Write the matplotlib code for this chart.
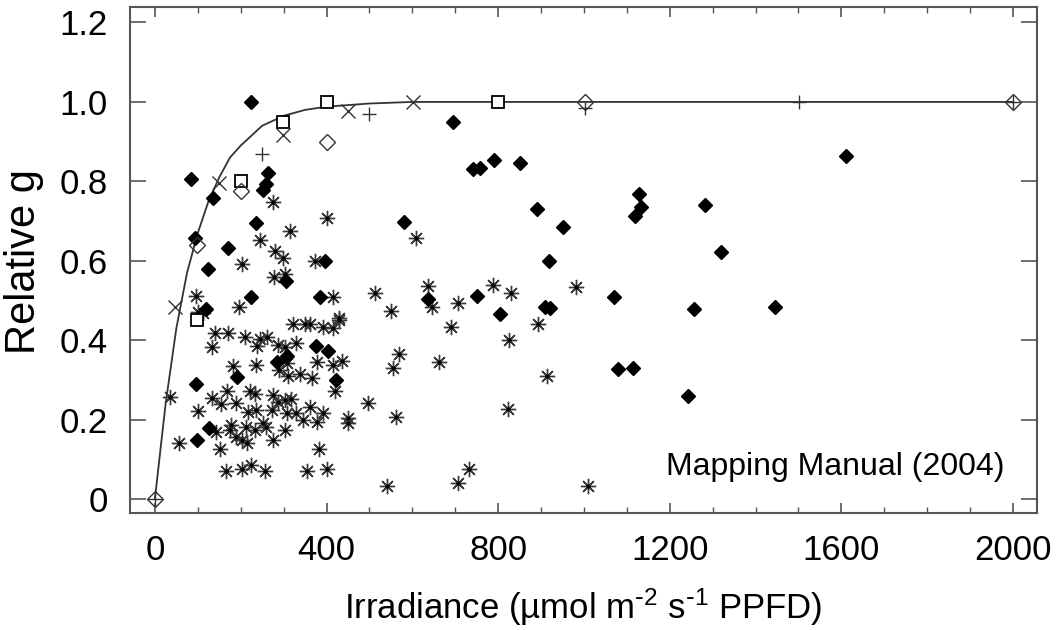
import matplotlib
matplotlib.use("Agg")
import matplotlib.pyplot as plt
from matplotlib.ticker import MultipleLocator, FuncFormatter

plt.rcParams['font.family'] = ['Liberation Sans', 'DejaVu Sans']
plt.rcParams['mathtext.default'] = 'regular'

# model curve
curve_x = [0, 25, 50, 75, 100, 125, 150, 175, 200, 250, 300, 350, 400, 500, 600, 800, 1000, 1500, 2000]
curve_y = [0, 0.24, 0.43, 0.57, 0.67, 0.75, 0.81, 0.86, 0.89, 0.94, 0.965, 0.98, 0.988, 0.996, 1.0, 1.0, 1.0, 1.0, 1.0]

# filled diamonds
dia_x = [224, 84, 135, 263, 259, 252, 235, 170, 93, 124, 120, 224, 580, 695, 741, 758, 790, 851,
         890, 951, 918, 1128, 1133, 1119, 1282, 1319, 1610, 1070, 909, 921, 1256, 1445, 804, 750,
         636, 1079, 1114, 1242, 396, 305, 385, 375, 404, 192, 285, 307, 421, 95, 97, 127]
dia_y = [1.00, 0.806, 0.758, 0.82, 0.793, 0.778, 0.695, 0.632, 0.657, 0.579, 0.478, 0.509, 0.698,
         0.95, 0.83, 0.834, 0.854, 0.846, 0.73, 0.685, 0.60, 0.768, 0.735, 0.713, 0.74, 0.622, 0.864,
         0.51, 0.484, 0.48, 0.478, 0.484, 0.466, 0.512, 0.505, 0.327, 0.33, 0.26, 0.600, 0.550, 0.509,
         0.385, 0.373, 0.308, 0.346, 0.360, 0.300, 0.289, 0.149, 0.180]

# asterisks
ast_x = [246, 315, 279, 299, 204, 373, 277, 303, 608, 275, 401, 95, 111, 101, 196, 414, 514, 551,
         637, 647, 706, 788, 831, 690, 826, 569, 554, 663, 822, 731, 706, 540, 497, 562, 450, 450,
         383, 400, 354, 256, 224, 203, 165, 152, 57, 101, 36, 132, 140, 171, 210, 239, 245, 262, 287,
         303, 329, 322, 349, 361, 392, 416, 430, 183, 235, 307, 290, 311, 339, 367, 377, 414, 437,
         420, 167, 222, 233, 134, 155, 190, 217, 235, 276, 287, 303, 318, 272, 307, 330, 346, 361,
         377, 391, 142, 174, 178, 190, 202, 215, 213, 233, 252, 260, 276, 303, 981, 893, 914, 1009, 429]
ast_y = [0.652, 0.675, 0.625, 0.606, 0.591, 0.600, 0.560, 0.568, 0.657, 0.748, 0.707, 0.512, 0.468,
         0.472, 0.484, 0.509, 0.520, 0.474, 0.537, 0.484, 0.493, 0.539, 0.520, 0.434, 0.400, 0.365,
         0.331, 0.346, 0.226, 0.075, 0.040, 0.034, 0.243, 0.206, 0.203, 0.192, 0.125, 0.075, 0.072,
         0.072, 0.086, 0.075, 0.072, 0.127, 0.140, 0.222, 0.258, 0.382, 0.419, 0.419, 0.409, 0.385,
         0.402, 0.409, 0.388, 0.384, 0.392, 0.441, 0.441, 0.441, 0.434, 0.430, 0.452, 0.335, 0.337,
         0.343, 0.325, 0.310, 0.315, 0.304, 0.345, 0.337, 0.348, 0.273, 0.273, 0.272, 0.264, 0.254,
         0.239, 0.243, 0.220, 0.224, 0.262, 0.245, 0.249, 0.251, 0.224, 0.216, 0.216, 0.199, 0.232,
         0.195, 0.216, 0.170, 0.174, 0.186, 0.156, 0.150, 0.142, 0.182, 0.174, 0.192, 0.182, 0.148,
         0.175, 0.535, 0.44, 0.31, 0.033, 0.455]

# open squares, crosses, plus signs, open diamonds
sq_x = [97, 200, 298, 401, 800]
sq_y = [0.451, 0.80, 0.95, 1.0, 1.0]
x_x = [48, 149, 298, 450, 601]
x_y = [0.483, 0.797, 0.917, 0.977, 1.0]
plus_x = [0, 249, 499, 1002, 1501, 2000]
plus_y = [0, 0.869, 0.97, 0.985, 1.0, 1.0]
odia_x = [0, 98, 200, 401, 1002, 2000]
odia_y = [0, 0.64, 0.776, 0.90, 1.0, 1.0]

fig = plt.figure(figsize=(10.56, 6.3), dpi=100)
ax = fig.add_axes([130/1056, 1 - 513/630, 907/1056, 506/630])

ax.plot(curve_x, curve_y, color='#333333', lw=1.3, zorder=2)
ax.plot(ast_x, ast_y, ls='none', marker=(8, 2, 0), ms=11, mew=1.0, color='#3a3a3a', zorder=3)
ax.plot(ast_x, ast_y, ls='none', marker='o', ms=3, color='black', mew=0, zorder=3)
ax.plot(dia_x, dia_y, ls='none', marker='D', ms=7, color='black', zorder=4)
ax.plot(sq_x, sq_y, ls='none', marker='s', ms=8, mfc='white', mec='black', mew=1.3, zorder=4)
ax.plot(x_x, x_y, ls='none', marker='x', ms=10, mec='#333333', mew=1.0, zorder=4)
ax.plot(plus_x, plus_y, ls='none', marker='+', ms=10, mec='#333333', mew=1.0, zorder=5)
ax.plot(odia_x, odia_y, ls='none', marker='D', ms=8, mfc='none', mec='#333333', mew=1.0, zorder=5)

ax.set_xlim(-58, 2056)
ax.set_ylim(-0.035, 1.239)
ax.xaxis.set_major_locator(MultipleLocator(400))
ax.xaxis.set_minor_locator(MultipleLocator(100))
ax.yaxis.set_major_locator(MultipleLocator(0.2))
ax.yaxis.set_major_formatter(FuncFormatter(lambda v, p: '0' if abs(v) < 1e-9 else f'{v:.1f}'))

ax.tick_params(axis='x', which='major', direction='in', length=7, width=1.2, color='#555555',
               top=True, labelsize=25, pad=15)
ax.tick_params(axis='x', which='minor', direction='in', length=4.5, width=1.0, color='#555555', top=True)
ax.tick_params(axis='y', which='major', direction='in', length=11.5, width=1.2, color='#555555',
               right=True, labelsize=25, pad=16)
for s in ax.spines.values():
    s.set_color('#555555')
    s.set_linewidth(1.5)

ax.set_xlabel(r'Irradiance (µmol m$^{\text{-}2}$ s$^{\text{-}1}$ PPFD)', fontsize=25, labelpad=14)
ax.set_ylabel('Relative g', fontsize=30, va='center')
ax.yaxis.set_label_coords((24 - 130) / 907, 0.496)
ax.text(1980, 0.08, 'Mapping Manual (2004)', fontsize=23, ha='right', va='center')

fig.savefig('out.png', dpi=100)
